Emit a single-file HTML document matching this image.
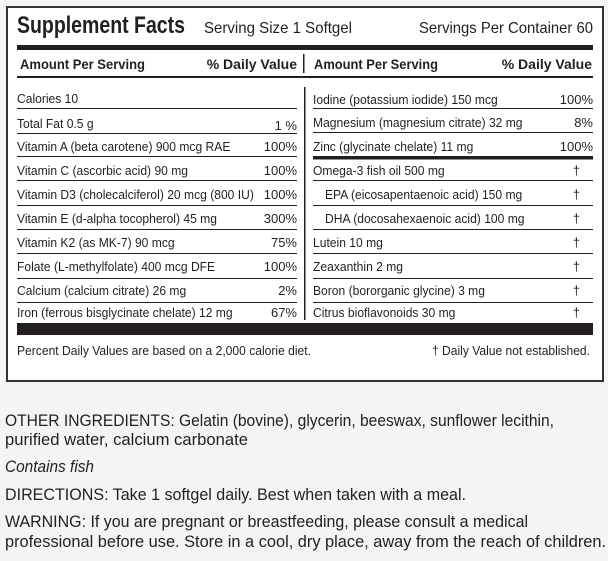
<!DOCTYPE html>
<html><head><meta charset="utf-8"><style>
html,body{margin:0;padding:0;background:#f4f4f2;}
svg{display:block;}
text{font-family:"Liberation Sans Narrow","Liberation Sans",sans-serif;fill:#231f20;}
.b{font-weight:bold;}
</style></head><body>
<svg width="608" height="561" viewBox="0 0 608 561" xmlns="http://www.w3.org/2000/svg">
<rect x="0" y="0" width="608" height="561" fill="#f4f4f2"/>
<rect x="7" y="7" width="596" height="374" fill="#fff" stroke="#333" stroke-width="2"/>
<text x="17" y="33" class="b" font-size="24" textLength="168" lengthAdjust="spacingAndGlyphs">Supplement Facts</text>
<text x="204" y="33" font-size="16" textLength="148" lengthAdjust="spacingAndGlyphs">Serving Size 1 Softgel</text>
<text x="419" y="33" font-size="16" textLength="174" lengthAdjust="spacingAndGlyphs">Servings Per Container 60</text>
<rect x="17" y="45" width="576" height="5" fill="#231f20"/>
<text x="20" y="69" class="b" font-size="14" textLength="125" lengthAdjust="spacingAndGlyphs">Amount Per Serving</text>
<text x="297" y="69" class="b" font-size="14" text-anchor="end">% Daily Value</text>
<rect x="303" y="54" width="1.5" height="19" fill="#231f20"/>
<text x="314" y="69" class="b" font-size="14" textLength="124" lengthAdjust="spacingAndGlyphs">Amount Per Serving</text>
<text x="592" y="69" class="b" font-size="14" text-anchor="end">% Daily Value</text>
<rect x="17" y="76" width="576" height="2" fill="#231f20"/>
<rect x="304" y="87" width="1.5" height="233" fill="#231f20"/>
<g fill="#231f20">
<rect x="17" y="108" width="280" height="1"/>
<rect x="17" y="133" width="280" height="1"/>
<rect x="17" y="156" width="280" height="1"/>
<rect x="17" y="180" width="280" height="1"/>
<rect x="17" y="205" width="280" height="1"/>
<rect x="17" y="229" width="280" height="1"/>
<rect x="17" y="253" width="280" height="1"/>
<rect x="17" y="278" width="280" height="1"/>
<rect x="17" y="302" width="280" height="1"/>
<rect x="313" y="108" width="280" height="1"/>
<rect x="313" y="132" width="280" height="1"/>
<rect x="313" y="156" width="280" height="3.5"/>
<rect x="313" y="180" width="280" height="1"/>
<rect x="313" y="205" width="280" height="1"/>
<rect x="313" y="229" width="280" height="1"/>
<rect x="313" y="253" width="280" height="1"/>
<rect x="313" y="278" width="280" height="1"/>
<rect x="313" y="302" width="280" height="1"/>
</g>
<g font-size="13">
<text transform="translate(17 103) scale(0.93 1)">Calories 10</text>
<text transform="translate(17 128) scale(0.93 1)">Total Fat  0.5 g</text><text x="297" y="130" text-anchor="end">1 %</text>
<text transform="translate(17 151) scale(0.93 1)">Vitamin A (beta carotene) 900 mcg RAE</text><text x="297" y="151" text-anchor="end">100%</text>
<text transform="translate(17 175) scale(0.93 1)">Vitamin C (ascorbic acid) 90 mg</text><text x="297" y="175" text-anchor="end">100%</text>
<text transform="translate(17 199) scale(0.93 1)">Vitamin D3 (cholecalciferol) 20 mcg (800 IU)</text><text x="297" y="199" text-anchor="end">100%</text>
<text transform="translate(17 223) scale(0.93 1)">Vitamin E (d-alpha tocopherol) 45 mg</text><text x="297" y="223" text-anchor="end">300%</text>
<text transform="translate(17 247) scale(0.93 1)">Vitamin K2 (as MK-7) 90 mcg</text><text x="297" y="247" text-anchor="end">75%</text>
<text transform="translate(17 271) scale(0.93 1)">Folate (L-methylfolate) 400 mcg DFE</text><text x="297" y="271" text-anchor="end">100%</text>
<text transform="translate(17 295) scale(0.93 1)">Calcium (calcium citrate) 26 mg</text><text x="297" y="295" text-anchor="end">2%</text>
<text transform="translate(17 317) scale(0.93 1)">Iron (ferrous bisglycinate chelate) 12 mg</text><text x="297" y="317" text-anchor="end">67%</text>

<text transform="translate(313 104) scale(0.93 1)">Iodine (potassium iodide) 150 mcg</text><text x="593" y="104" text-anchor="end">100%</text>
<text transform="translate(313 127) scale(0.93 1)">Magnesium (magnesium citrate) 32 mg</text><text x="593" y="127" text-anchor="end">8%</text>
<text transform="translate(313 151) scale(0.93 1)">Zinc (glycinate chelate) 11 mg</text><text x="593" y="151" text-anchor="end">100%</text>
<text transform="translate(313 175) scale(0.93 1)">Omega-3 fish oil 500 mg</text><text x="580" y="175" text-anchor="end">†</text>
<text transform="translate(325 199) scale(0.93 1)">EPA (eicosapentaenoic acid) 150 mg</text><text x="580" y="199" text-anchor="end">†</text>
<text transform="translate(325 223) scale(0.93 1)">DHA (docosahexaenoic acid) 100 mg</text><text x="580" y="223" text-anchor="end">†</text>
<text transform="translate(313 247) scale(0.93 1)">Lutein 10 mg</text><text x="580" y="247" text-anchor="end">†</text>
<text transform="translate(313 271) scale(0.93 1)">Zeaxanthin 2 mg</text><text x="580" y="271" text-anchor="end">†</text>
<text transform="translate(313 295) scale(0.93 1)">Boron (bororganic glycine) 3 mg</text><text x="580" y="295" text-anchor="end">†</text>
<text transform="translate(313 317) scale(0.93 1)">Citrus bioflavonoids 30 mg</text><text x="580" y="317" text-anchor="end">†</text>
</g>
<rect x="17" y="323" width="576" height="12" fill="#231f20"/>
<text x="17" y="355" font-size="12.5" textLength="294" lengthAdjust="spacingAndGlyphs">Percent Daily Values are based on a 2,000 calorie diet.</text>
<text x="590" y="355" font-size="12.5" text-anchor="end" textLength="158" lengthAdjust="spacingAndGlyphs">† Daily Value not established.</text>

<text x="5" y="426" font-size="17" textLength="549" lengthAdjust="spacingAndGlyphs">OTHER INGREDIENTS: Gelatin (bovine), glycerin, beeswax, sunflower lecithin,</text>
<text x="5" y="445" font-size="17" textLength="243" lengthAdjust="spacingAndGlyphs">purified water, calcium carbonate</text>
<text x="5" y="472" font-size="17" font-style="italic" textLength="89" lengthAdjust="spacingAndGlyphs">Contains fish</text>
<text x="5" y="500" font-size="17" textLength="461" lengthAdjust="spacingAndGlyphs">DIRECTIONS: Take 1 softgel daily. Best when taken with a meal.</text>
<text x="5" y="527" font-size="17" textLength="523" lengthAdjust="spacingAndGlyphs">WARNING: If you are pregnant or breastfeeding, please consult a medical</text>
<text x="5" y="547" font-size="17" textLength="601" lengthAdjust="spacingAndGlyphs">professional before use. Store in a cool, dry place, away from the reach of children.</text>
</svg>
</body></html>
